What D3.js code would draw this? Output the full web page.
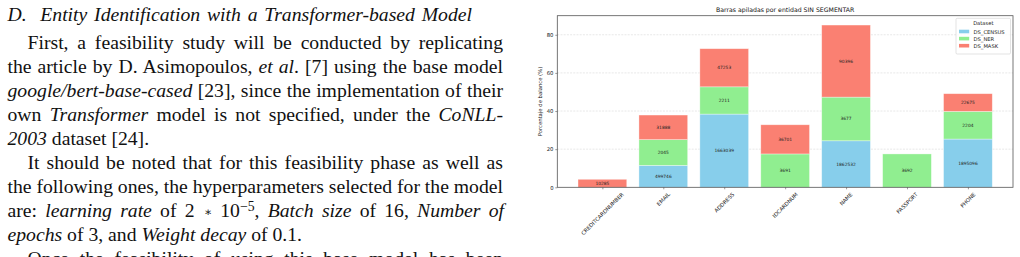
<!DOCTYPE html>
<html>
<head>
<meta charset="utf-8">
<script src="https://cdn.jsdelivr.net/npm/d3@7"></script>
<style>
  body { margin: 0; background: #fff; }
  svg { display: block; }
</style>
</head>
<body>
<svg id="page" width="1020" height="257"></svg>
<script>
// ---- chart data ----
var categories = ["CREDITCARDNUMBER", "EMAIL", "ADDRESS", "IDCARDNUM", "NAME", "PASSPORT", "PHONE"];
var seriesNames = ["DS_CENSUS", "DS_NER", "DS_MASK"];
var censusPct = [0, 11.5, 38.4, 0, 24.4, 0, 25.3];
var nerPct = [0, 13.5, 14.3, 17.5, 22.9, 17.5, 14.5];
var maskPct = [4.2, 12.9, 20.0, 15.3, 37.8, 0, 9.3];
var censusCounts = [null, 499746, 1663039, null, 1862532, null, 1895096];
var nerCounts = [null, 2045, 2211, 3691, 3677, 3692, 2204];
var maskCounts = [10285, 31888, 47253, 36701, 90396, null, 22675];
var yTicks = [0, 20, 40, 60, 80];
var colors = ["#87CEEB", "#90EE90", "#FA8072"];

// ---- paper text lines (left column) ----
var heading = "D.  Entity Identification with a Transformer-based Model";
var paraLines = [
    { indent: true, justify: true, parts: [["First, a feasibility study will be conducted by replicating"]] },
    { justify: true, parts: [["the article by D. Asimopoulos, "], ["et al", "i"], [". [7] using the base model"]] },
    { justify: true, parts: [["google/bert-base-cased", "i"], [" [23], since the implementation of their"]] },
    { justify: true, parts: [["own "], ["Transformer", "i"], [" model is not specified, under the "], ["CoNLL-", "i"]] },
    { justify: false, parts: [["2003", "i"], [" dataset [24]."]] },
    { indent: true, justify: true, parts: [["It should be noted that for this feasibility phase as well as"]] },
    { justify: true, parts: [["the following ones, the hyperparameters selected for the model"]] },
    { justify: true, parts: [["are: "], ["learning rate", "i"], [" of 2 "], ["\u2217", "op"], [" 10"], ["\u22125", "sup"], [", ", "down"], ["Batch size", "i"], [" of 16, "], ["Number of", "i"]] },
    { justify: false, parts: [["epochs", "i"], [" of 3, and "], ["Weight decay", "i"], [" of 0.1."]] },
    { indent: true, justify: true, parts: [["Once the feasibility of using this base model has been"]] }
];

var svg = d3.select("#page");

// ---- left column text ----
var textLeft = 7.5, textRight = 503, textIndent = 27.5;
var fontPx = 19.7, lineStep = 24;
var serif = "Liberation Serif, Times New Roman, serif";

var head = svg.append("text")
    .attr("x", textLeft)
    .attr("y", 20.5)
    .attr("font-family", serif)
    .attr("font-style", "italic")
    .attr("font-size", fontPx)
    .attr("fill", "#111")
    .style("white-space", "pre")
    .text(heading);
// heading runs to x ~ 472 in the reference
var headSpaces = heading.split(" ").length - 1;
head.attr("word-spacing", (472 - textLeft - head.node().getComputedTextLength()) / headSpaces);

paraLines.forEach(function(line, i) {
    var x0 = line.indent ? textIndent : textLeft;
    var t = svg.append("text")
        .attr("x", x0)
        .attr("y", 49 + i * lineStep)
        .attr("font-family", serif)
        .attr("font-size", fontPx)
        .attr("fill", "#111")
        .style("white-space", "pre");
    var spaces = 0;
    line.parts.forEach(function(p) {
        var ts = t.append("tspan").text(p[0]);
        if (p[1] == "i") ts.attr("font-style", "italic");
        if (p[1] == "op") ts.attr("font-family", "DejaVu Serif, serif").attr("font-size", fontPx * 0.62).attr("dy", -1).attr("dx", 1);
        if (p[1] == "sup") ts.attr("font-size", fontPx * 0.7).attr("dy", -6.5);
        if (p[1] == "down") ts.attr("dy", 6.5);
        if (p[1] != "op" && p[1] != "sup" && p[1] != "down") {
            var prev = line.parts[line.parts.indexOf(p) - 1];
            if (prev && prev[1] == "op") ts.attr("dy", 1);
        }
        spaces += (p[0].match(/ /g) || []).length;
    });
    if (line.justify && spaces > 0) {
        var natural = t.node().getComputedTextLength();
        var extra = (textRight - x0 - natural) / spaces;
        t.attr("word-spacing", extra);
    }
});

// ---- chart ----
var plot = { left: 557.3, right: 1013, top: 15.7, bottom: 187.3 };
var tickFont = 5.3;

var x = d3.scaleLinear().domain([-0.74, 6.74]).range([plot.left, plot.right]);
var y = d3.scaleLinear().domain([0, 90]).range([plot.bottom, plot.top]);
var barW = x(0.8) - x(0);

var chart = svg.append("g").attr("font-family", "DejaVu Sans, sans-serif");

// gridlines
chart.append("g")
    .selectAll("line")
    .data(yTicks.slice(1))
    .enter()
    .append("line")
    .attr("x1", plot.left)
    .attr("x2", plot.right)
    .attr("y1", function(d) { return y(d); })
    .attr("y2", function(d) { return y(d); })
    .attr("stroke", "#d8d8d8")
    .attr("stroke-width", 0.6)
    .attr("stroke-dasharray", "2,1.2");

// stacked bars
var pctSeries = [censusPct, nerPct, maskPct];
var countSeries = [censusCounts, nerCounts, maskCounts];
var stackData = [];
categories.forEach(function(c, i) {
    var base = 0;
    pctSeries.forEach(function(s, k) {
        if (s[i] > 0) {
            stackData.push({ i: i, k: k, y0: base, y1: base + s[i], count: countSeries[k][i] });
        }
        base += s[i];
    });
});

chart.append("g")
    .selectAll("rect")
    .data(stackData)
    .enter()
    .append("rect")
    .attr("x", function(d) { return x(d.i) - barW / 2; })
    .attr("width", barW)
    .attr("y", function(d) { return y(d.y1); })
    .attr("height", function(d) { return y(d.y0) - y(d.y1); })
    .attr("fill", function(d) { return colors[d.k]; })
    .attr("stroke", "#fff")
    .attr("stroke-opacity", 0.5)
    .attr("stroke-width", 0.7);

chart.append("g")
    .selectAll("text")
    .data(stackData.filter(function(d) { return d.count != null; }))
    .enter()
    .append("text")
    .attr("x", function(d) { return x(d.i); })
    .attr("y", function(d) { return y((d.y0 + d.y1) / 2); })
    .attr("text-anchor", "middle")
    .attr("dominant-baseline", "central")
    .attr("font-size", 4.4)
    .attr("fill", "#222")
    .text(function(d) { return d.count; });

// spines
chart.append("rect")
    .attr("x", plot.left)
    .attr("y", plot.top)
    .attr("width", plot.right - plot.left)
    .attr("height", plot.bottom - plot.top)
    .attr("fill", "none")
    .attr("stroke", "#555")
    .attr("stroke-width", 0.8);

// y axis
var yAxis = chart.append("g")
    .attr("transform", "translate(" + plot.left + ",0)")
    .call(d3.axisLeft(y).tickValues(yTicks).tickSize(2).tickPadding(1.8));
yAxis.select(".domain").remove();
yAxis.selectAll("line").attr("stroke", "#555").attr("stroke-width", 0.6);
yAxis.selectAll("text").attr("font-size", tickFont).attr("font-family", "DejaVu Sans, sans-serif").attr("fill", "#222");

// x axis ticks + rotated labels
var xAxis = chart.append("g")
    .attr("transform", "translate(0," + plot.bottom + ")")
    .call(d3.axisBottom(x).tickValues(d3.range(categories.length)).tickSize(2).tickFormat(""));
xAxis.select(".domain").remove();
xAxis.selectAll("line").attr("stroke", "#555").attr("stroke-width", 0.6);

var xl = chart.append("g")
    .selectAll("text")
    .data(categories)
    .enter()
    .append("text")
    .attr("text-anchor", "middle")
    .attr("dominant-baseline", "central")
    .attr("font-size", tickFont)
    .attr("fill", "#222")
    .text(function(d) { return d; });
xl.attr("transform", function(d, i) {
    var L = this.getComputedTextLength();
    var h = tickFont * 1.1;
    var cy = plot.bottom + 4 + (L + h) * Math.SQRT1_2 / 2;
    return "translate(" + x(i) + "," + cy + ") rotate(-45)";
});

// title and y label
chart.append("text")
    .attr("x", (plot.left + plot.right) / 2)
    .attr("y", 9.5)
    .attr("text-anchor", "middle")
    .attr("dominant-baseline", "central")
    .attr("font-size", 6.2)
    .attr("fill", "#111")
    .text("Barras apiladas por entidad SIN SEGMENTAR");

chart.append("text")
    .attr("transform", "translate(540," + (plot.top + plot.bottom) / 2 + ") rotate(-90)")
    .attr("text-anchor", "middle")
    .attr("dominant-baseline", "central")
    .attr("font-size", 5.3)
    .attr("fill", "#222")
    .text("Porcentaje de balance (%)");

// legend
var legend = chart.append("g").attr("transform", "translate(956,18.3)");
legend.append("rect")
    .attr("width", 54.5)
    .attr("height", 35.7)
    .attr("rx", 1.2)
    .attr("fill", "#fff")
    .attr("fill-opacity", 0.8)
    .attr("stroke", "#d0d0d0")
    .attr("stroke-width", 0.6);
legend.append("text")
    .attr("x", 27.3)
    .attr("y", 5)
    .attr("text-anchor", "middle")
    .attr("dominant-baseline", "central")
    .attr("font-size", 5.2)
    .attr("fill", "#222")
    .text("Dataset");
var items = legend.selectAll("g.item")
    .data(seriesNames)
    .enter()
    .append("g")
    .attr("class", "item")
    .attr("transform", function(d, i) { return "translate(0," + (13.2 + i * 7.1) + ")"; });
items.append("rect")
    .attr("x", 3)
    .attr("y", -1.8)
    .attr("width", 10.2)
    .attr("height", 3.6)
    .attr("fill", function(d, i) { return colors[i]; });
items.append("text")
    .attr("x", 17.5)
    .attr("dominant-baseline", "central")
    .attr("font-size", 5.2)
    .attr("fill", "#222")
    .text(function(d) { return d; });
</script>
</body>
</html>
